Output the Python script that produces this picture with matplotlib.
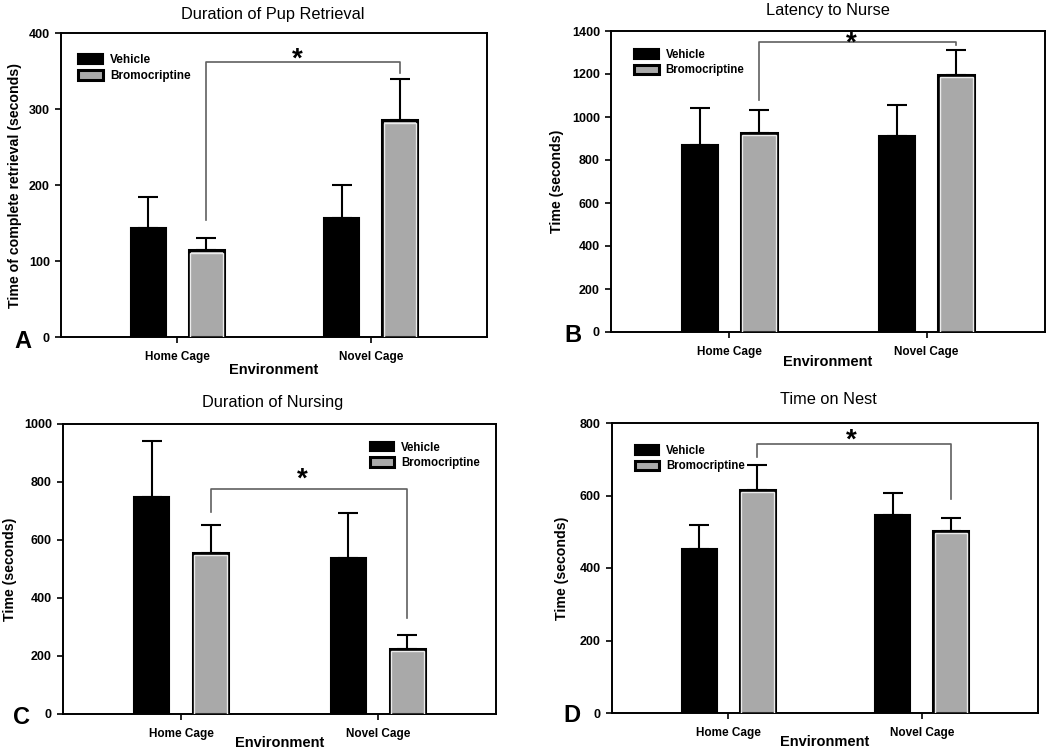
import matplotlib
matplotlib.use("Agg")
import matplotlib.pyplot as plt
import numpy as np

plt.rcParams['font.family'] = ['Liberation Sans', 'DejaVu Sans']

categories = ["Home Cage", "Novel Cage"]
series_names = ["Vehicle", "Bromocriptine"]

titles = ["Duration of Pup Retrieval", "Latency to Nurse", "Duration of Nursing", "Time on Nest"]
ylabels = ["Time of complete retrieval (seconds)", "Time (seconds)", "Time (seconds)", "Time (seconds)"]
panel_letters = ["A", "B", "C", "D"]

# means [Home, Novel]
a_vehicle = [143, 157]
a_bromo = [114, 285]
a_vehicle_top = [184, 200]
a_bromo_top = [130, 339]

b_vehicle = [868, 912]
b_bromo = [925, 1195]
b_vehicle_top = [1040, 1058]
b_bromo_top = [1032, 1310]

c_vehicle = [748, 538]
c_bromo = [555, 225]
c_vehicle_top = [940, 692]
c_bromo_top = [652, 272]

d_vehicle = [453, 547]
d_bromo = [615, 502]
d_vehicle_top = [518, 606]
d_bromo_top = [683, 537]

y_max = [400, 1400, 1000, 800]
y_step = [100, 200, 200, 200]

# significance brackets: (top, left leg bottom, right leg bottom)
brackets = [(362, 154, 347), (1349, 1079, 1335), (776, 697, 331), (742, 706, 590)]
# asterisk centres (x in category units, y in data units)
star_x = [0.62, 0.62, 0.615, 0.634]
star_y = [372, 1367, 828, 767]

panels = [
    (a_vehicle, a_bromo, a_vehicle_top, a_bromo_top),
    (b_vehicle, b_bromo, b_vehicle_top, b_bromo_top),
    (c_vehicle, c_bromo, c_vehicle_top, c_bromo_top),
    (d_vehicle, d_bromo, d_vehicle_top, d_bromo_top),
]

W, H = 1050, 750
fig = plt.figure(figsize=(10.5, 7.5), dpi=100)

# axes boxes in pixels: left, top, right, bottom
boxes = [(61, 33, 487, 337), (611, 31, 1045, 332), (63, 424, 496, 714), (612, 423, 1038, 713)]
legend_anchor = [(0.015, 0.965), (0.03, 0.975), (0.685, 0.975), (0.03, 0.96)]
legend_size = [8.5, 8.3, 8.3, 8.3]
title_pos = [(273, 15), (828, 11), (273, 402), (828, 399)]
letter_pos = [(23, 342), (573, 335), (22, 717), (572, 715)]
ylabel_x = [-0.108, -0.124, -0.122, -0.117]
xlabel_y = [-0.109, -0.10, -0.10, -0.10]

gray = '#a9a9a9'
offset = 0.15
width = 0.18

for i, (veh, bro, veh_top, bro_top) in enumerate(panels):
    l, t, r, b = boxes[i]
    ax = fig.add_axes([l / W, 1 - b / H, (r - l) / W, (b - t) / H])
    x = np.arange(len(categories))
    xv = x - offset
    xb = x + offset
    ax.bar(xv, veh, width=width, color='black', edgecolor='black', linewidth=1.5,
           label=series_names[0], zorder=2)
    ax.bar(xb, bro, width=width, color=gray, edgecolor='black', linewidth=2.2,
           label=series_names[1], zorder=2)
    # inner light outline on gray bars
    ax_h_px = b - t
    ax_w_px = r - l
    dx = 2.2 * 2.2 / ax_w_px
    dy = y_max[i] * 2.2 / ax_h_px
    ax.bar(xb, np.array(bro) - dy, width=width - dx, bottom=0, color='none',
           edgecolor='#ececec', linewidth=1.0, zorder=3)

    ax.errorbar(xv, veh, yerr=[np.zeros(2), np.array(veh_top) - np.array(veh)],
                fmt='none', ecolor='black', elinewidth=1.5, capsize=7, capthick=1.5, zorder=4)
    ax.errorbar(xb, bro, yerr=[np.zeros(2), np.array(bro_top) - np.array(bro)],
                fmt='none', ecolor='black', elinewidth=1.5, capsize=7, capthick=1.5, zorder=4)

    top, lb, rb = brackets[i]
    ax.plot([xb[0], xb[0], xb[1], xb[1]], [lb, top, top, rb], color='#606060', lw=1.2, zorder=5)
    ax.annotate('*', xy=(star_x[i], star_y[i]), xytext=(0, -9), textcoords='offset points',
                ha='center', va='baseline', fontsize=20, fontweight='bold', zorder=6,
                annotation_clip=False)

    ax.set_xlim(-0.6, 1.6)
    ax.set_ylim(0, y_max[i])
    ax.set_yticks(np.arange(0, y_max[i] + 1, y_step[i]))
    ax.set_xticks(x)
    ax.set_xticklabels(categories)
    for lab in ax.get_yticklabels():
        lab.set_fontweight('bold')
        lab.set_fontsize(9)
    for lab in ax.get_xticklabels():
        lab.set_fontweight('bold')
        lab.set_fontsize(8.5)
    ax.tick_params(direction='out', length=4, width=1.2, pad=4)
    ax.tick_params(axis='x', pad=6)
    for s in ax.spines.values():
        s.set_linewidth(1.4)

    ax.set_ylabel(ylabels[i], fontsize=10.2, fontweight='bold', va='center')
    ax.yaxis.set_label_coords(ylabel_x[i], 0.5)
    ax.set_xlabel("Environment", fontsize=10.5, fontweight='bold', va='center')
    ax.xaxis.set_label_coords(0.5, xlabel_y[i])

    ax.legend(loc='upper left', bbox_to_anchor=legend_anchor[i], frameon=False,
              handlelength=2.1, handleheight=0.9, labelspacing=0.3, handletextpad=0.6,
              prop={'weight': 'bold', 'size': legend_size[i]})

    tx, ty = title_pos[i]
    fig.text(tx / W, 1 - ty / H, titles[i], ha='center', va='center', fontsize=11.8)
    lx, ly = letter_pos[i]
    fig.text(lx / W, 1 - ly / H, panel_letters[i], ha='center', va='center', fontsize=17,
             fontweight='bold')

fig.savefig('out.png', dpi=100)
